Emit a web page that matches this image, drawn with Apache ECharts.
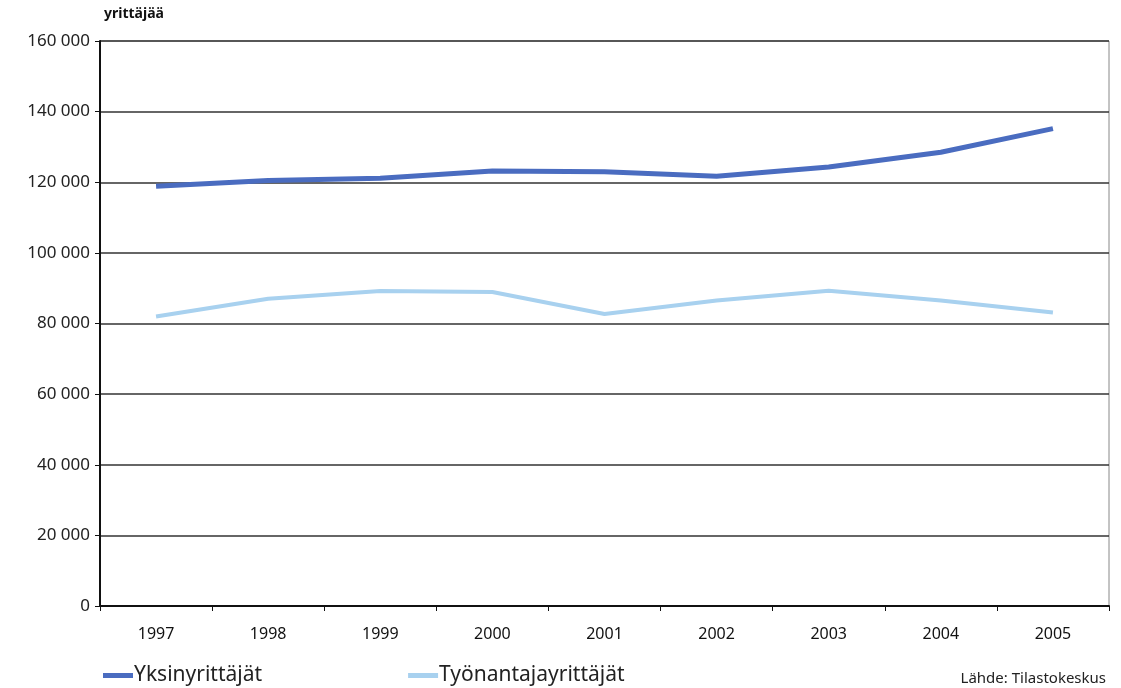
<!DOCTYPE html>
<html>
<head>
<meta charset="utf-8">
<script src="https://cdn.jsdelivr.net/npm/echarts@6/dist/echarts.min.js"></script>
<style>
  html, body { margin: 0; padding: 0; background: #fff; }
  #chart { width: 1121px; height: 688px; }
</style>
</head>
<body>
<div id="chart"></div>
<script>
// vuodet
var years = ["1997", "1998", "1999", "2000", "2001", "2002", "2003", "2004", "2005"];
// yrittäjien määrä
var yksinyrittajat = [118900, 120500, 121100, 123200, 123000, 121700, 124300, 128500, 135200];
var tyonantajayrittajat = [82000, 87000, 89200, 88900, 82700, 86500, 89300, 86500, 83100];

var seriesNames = ["Yksinyrittäjät", "Työnantajayrittäjät"];
var seriesColors = ["#4a6cc0", "#a8d1ef"];

function fmt(v) {
  return String(v).replace(/\B(?=(\d{3})+(?!\d))/g, " ");
}

var chart = echarts.init(document.getElementById("chart"));

var option = {
  backgroundColor: "#fff",
  animation: false,
  textStyle: { fontFamily: "Noto Sans" },
  title: {
    text: "Lähde: Tilastokeskus",
    right: 10,
    bottom: -3,
    textStyle: { fontSize: 15, fontWeight: "normal", color: "#222" }
  },
  legend: {
    left: 98,
    bottom: -3,
    itemWidth: 30,
    itemHeight: 5,
    itemGap: 146,
    icon: "rect",
    textStyle: { fontSize: 21, color: "#222", padding: [0, 0, 0, -4] },
    data: seriesNames
  },
  grid: {
    top: 41,
    left: 100,
    right: 12,
    bottom: 82,
    show: true,
    borderColor: "#888",
    borderWidth: 1
  },
  xAxis: {
    type: "category",
    data: years,
    boundaryGap: true,
    axisLine: { lineStyle: { color: "#111", width: 2 } },
    axisTick: { show: true, length: 5, lineStyle: { color: "#111" } },
    axisLabel: { fontSize: 16, color: "#111", margin: 20 }
  },
  yAxis: {
    type: "value",
    min: 0,
    max: 160000,
    interval: 20000,
    name: "yrittäjää",
    nameLocation: "end",
    nameGap: 20,
    nameTextStyle: { align: "left", fontSize: 14, color: "#111", fontWeight: "bold", padding: [0, 0, 0, 4] },
    axisLine: { show: true, lineStyle: { color: "#111", width: 2 } },
    axisTick: { show: true, length: 5, lineStyle: { color: "#111" } },
    axisLabel: { fontSize: 17, color: "#222", margin: 10, formatter: fmt },
    splitLine: { show: true, lineStyle: { color: "#333", width: 1.5 } }
  },
  series: [
    {
      name: seriesNames[0],
      type: "line",
      symbol: "none",
      data: yksinyrittajat,
      color: seriesColors[0],
      lineStyle: { width: 5, color: seriesColors[0] }
    },
    {
      name: seriesNames[1],
      type: "line",
      symbol: "none",
      data: tyonantajayrittajat,
      color: seriesColors[1],
      lineStyle: { width: 4, color: seriesColors[1] }
    }
  ]
};

chart.setOption(option);
</script>
</body>
</html>
